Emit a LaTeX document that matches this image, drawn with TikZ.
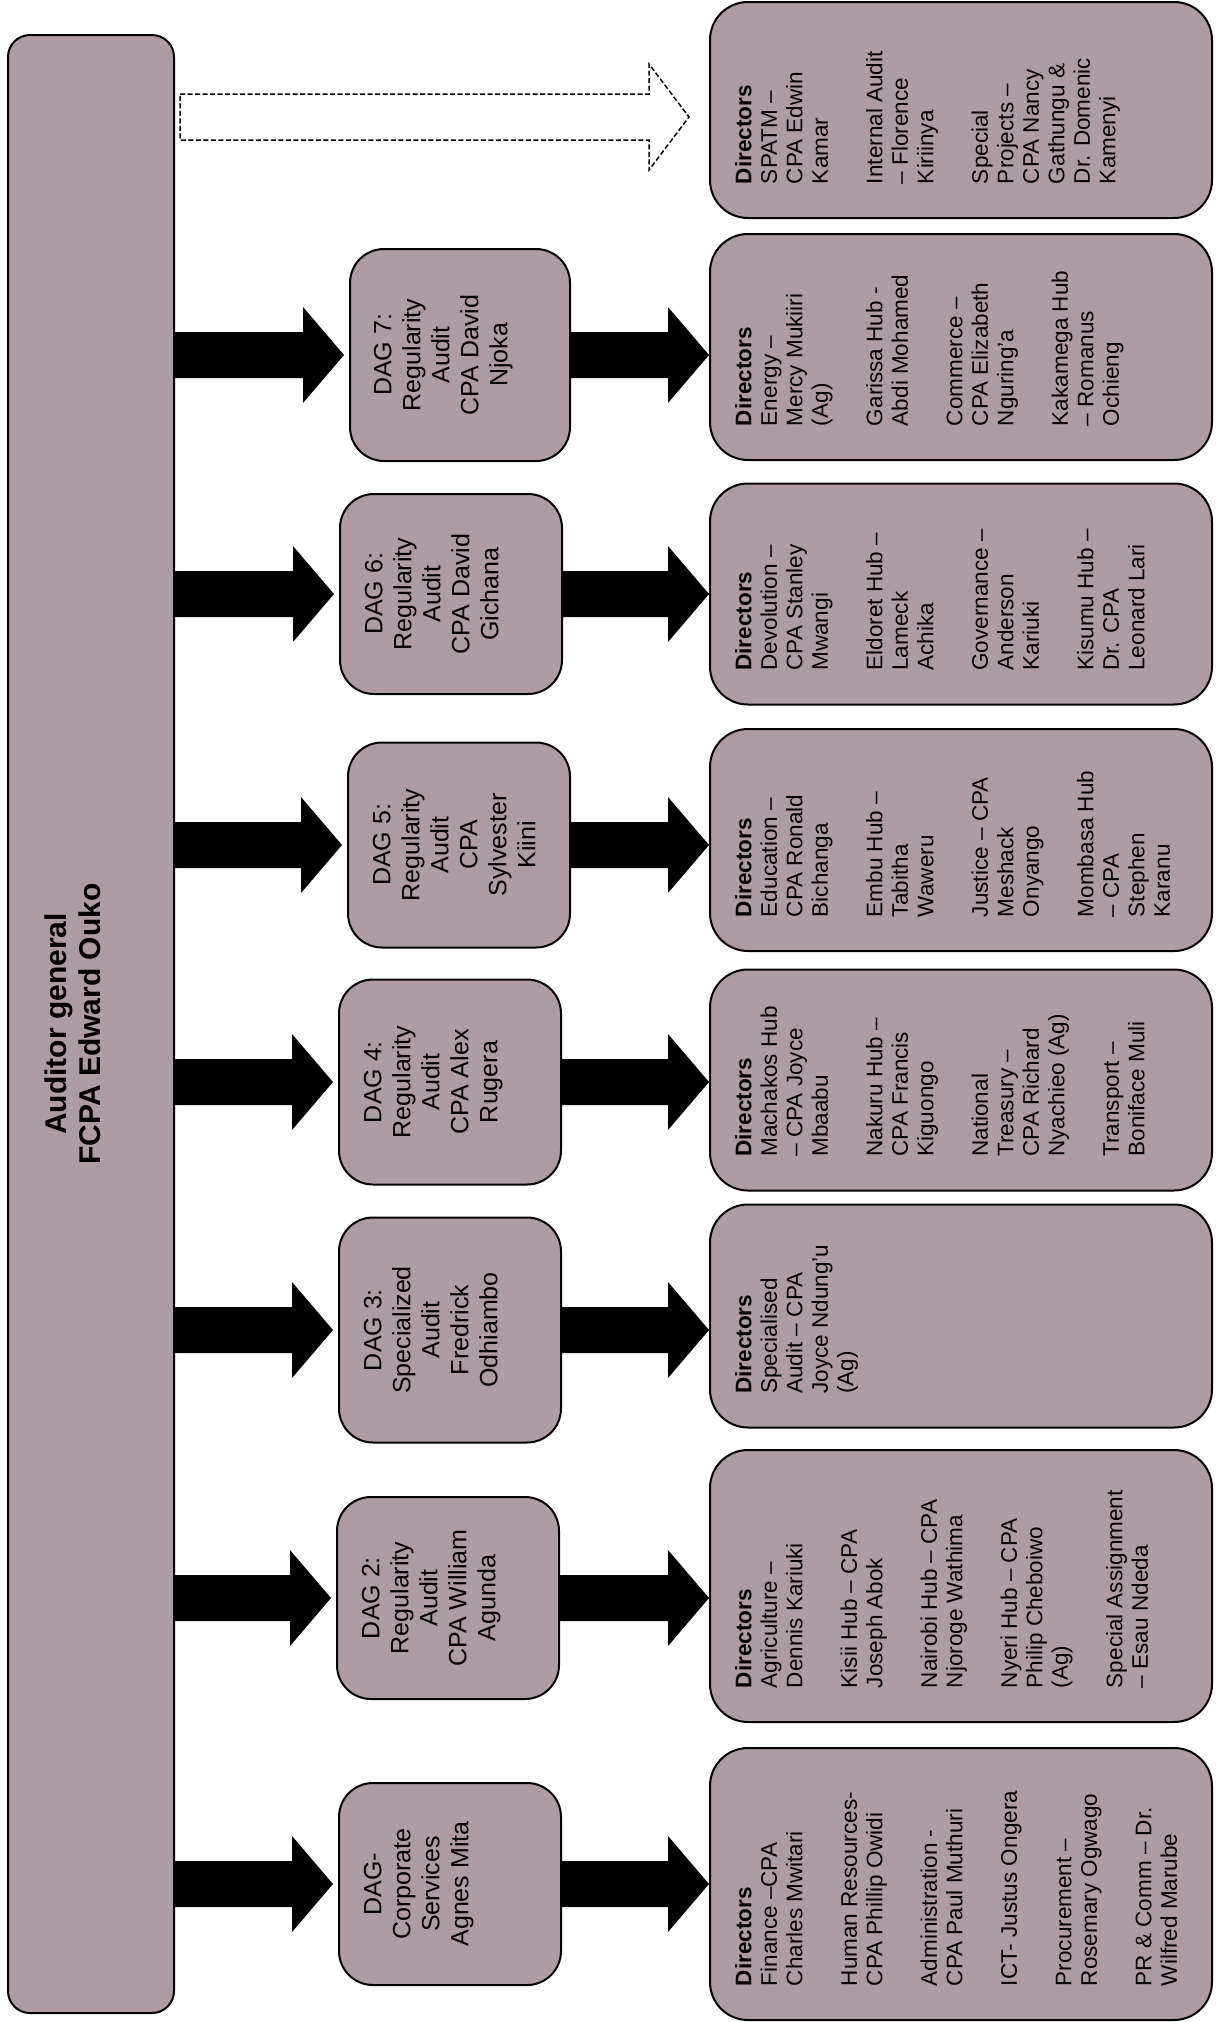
\documentclass[tikz,border=0pt]{standalone}
\usepackage{fontspec}
\setmainfont{Liberation Sans}
\usepackage{graphicx}
\usetikzlibrary{calc}
\definecolor{boxfill}{RGB}{172,157,164}
\tikzset{
agbar/.style={rectangle,rounded corners=22pt,draw=black,line width=2pt,fill=boxfill,
  inner sep=0pt,minimum width=166pt,minimum height=1978pt},
dagbox/.style={rectangle,rounded corners=34pt,draw=black,line width=2pt,fill=boxfill,
  inner sep=0pt,minimum width=222pt},
dirbox/.style={rectangle,rounded corners=38pt,draw=black,line width=2pt,fill=boxfill,
  inner sep=0pt,minimum width=502pt},
blkarr/.style={fill=black},
hollowarr/.style={draw=black,fill=white,line width=1.5pt,dash pattern=on 5pt off 2.5pt}
}
\newcommand{\dirfont}{\fontsize{22.5pt}{25.5pt}\selectfont}
\newcommand{\dagfont}{\fontsize{25pt}{29pt}\selectfont}
\newcommand{\agfont}{\fontsize{30pt}{34pt}\selectfont\bfseries}
\newcommand{\grp}{\\[29pt]}
\newcommand{\dirtext}[2]{\rotatebox{90}{\makebox[#1][l]{\parbox[c][452pt][t]{420pt}{\raggedright\dirfont #2}}}}
\newcommand{\dagtext}[1]{\rotatebox{90}{\parbox[c][172pt][t]{170pt}{\centering\dagfont #1}}}
\newcommand{\blkarrow}[2]{%
  \fill[blkarr] let \p1=(#1), \p2=(#2) in
    (\x1,\y1+23pt) -- (\x2-41pt,\y1+23pt) -- (\x2-41pt,\y1+48pt) -- (\x2,\y1)
    -- (\x2-41pt,\y1-48pt) -- (\x2-41pt,\y1-23pt) -- (\x1,\y1-23pt) -- cycle;}
\newcommand{\hollowarrow}[2]{%
  \draw[hollowarr] let \p1=(#1), \p2=(#2) in
    (\x1,\y1+23pt) -- (\x2-40pt,\y1+23pt) -- (\x2-40pt,\y1+53pt) -- (\x2,\y1)
    -- (\x2-40pt,\y1-53pt) -- (\x2-40pt,\y1-23pt) -- (\x1,\y1-23pt) -- cycle;}

\begin{document}
\begin{tikzpicture}[x=1pt,y=-1pt]
\useasboundingbox (0,0) rectangle (1223,2022);
\node[agbar] (bar) at (91,1024) {\rotatebox{90}{\parbox[c][92pt][t]{500pt}{\centering\agfont Auditor general\\FCPA Edward Ouko}}};

\node[dagbox,minimum width=220pt,minimum height=212pt] (dag7) at (460,355) {\dagtext{DAG 7:\\Regularity\\Audit\\CPA David\\Njoka}};
\node[dagbox,minimum height=200pt] (dag6) at (451,594) {\dagtext{DAG 6:\\Regularity\\Audit\\CPA David\\Gichana}};
\node[dagbox,minimum height=205pt] (dag5) at (459,845) {\dagtext{DAG 5:\\Regularity\\Audit\\CPA\\Sylvester\\Kiini}};
\node[dagbox,minimum height=205pt] (dag4) at (450,1082) {\dagtext{DAG 4:\\Regularity\\Audit\\CPA Alex\\Rugera}};
\node[dagbox,minimum height=225pt] (dag3) at (450,1330) {\dagtext{DAG 3:\\Specialized\\Audit\\Fredrick\\Odhiambo}};
\node[dagbox,minimum height=202pt] (dag2) at (448,1598) {\dagtext{DAG 2:\\Regularity\\Audit\\CPA William\\Agunda}};
\node[dagbox,minimum height=202pt] (dag1) at (450,1884) {\dagtext{DAG-\\Corporate\\Services\\Agnes Mita}};

\node[dirbox,minimum height=216pt] (dir0) at (961,110) {\dirtext{148pt}{\textbf{Directors}\\SPATM –\\CPA Edwin\\Kamar\grp
  Internal Audit\\– Florence\\Kiriinya\grp Special\\Projects –\\CPA Nancy\\Gathungu \&\\Dr. Domenic\\Kamenyi}};
\node[dirbox,minimum height=226pt] (dir7) at (961,347) {\dirtext{158pt}{\textbf{Directors}\\Energy –\\Mercy Mukiiri\\(Ag)\grp
  Garissa Hub -\\Abdi Mohamed\grp Commerce –\\CPA Elizabeth\\Nguring'a\grp Kakamega Hub\\– Romanus\\Ochieng}};
\node[dirbox,minimum height=221pt] (dir6) at (961,594) {\dirtext{153pt}{\textbf{Directors}\\Devolution –\\CPA Stanley\\Mwangi\grp
  Eldoret Hub –\\Lameck\\Achika\grp Governance –\\Anderson\\Kariuki\grp Kisumu Hub –\\Dr. CPA\\Leonard Lari}};
\node[dirbox,minimum height=222pt] (dir5) at (961,840) {\dirtext{154pt}{\textbf{Directors}\\Education –\\CPA Ronald\\Bichanga\grp
  Embu Hub –\\Tabitha\\Waweru\grp Justice – CPA\\Meshack\\Onyango\grp Mombasa Hub\\– CPA\\Stephen\\Karanu}};
\node[dirbox,minimum height=221pt] (dir4) at (961,1080) {\dirtext{153pt}{\textbf{Directors}\\Machakos Hub\\– CPA Joyce\\Mbaabu\grp
  Nakuru Hub –\\CPA Francis\\Kiguongo\grp National\\Treasury –\\CPA Richard\\Nyachieo (Ag)\grp Transport –\\Boniface Muli}};
\node[dirbox,minimum height=223pt] (dir3) at (961,1316) {\dirtext{155pt}{\textbf{Directors}\\Specialised\\Audit – CPA\\Joyce Ndung'u\\(Ag)}};
\node[dirbox,minimum height=272pt] (dir2) at (961,1586) {\dirtext{204pt}{\textbf{Directors}\\Agriculture –\\Dennis Kariuki\grp
  Kisii Hub – CPA\\Joseph Abok\grp Nairobi Hub – CPA\\Njoroge Wathima\grp Nyeri Hub – CPA\\Philip Cheboiwo\\(Ag)\grp
  Special Assignment\\– Esau Ndeda}};
\node[dirbox,minimum height=272pt] (dir1) at (961,1884) {\dirtext{204pt}{\textbf{Directors}\\Finance –CPA\\Charles Mwitari\grp
  Human Resources-\\CPA Phillip Owidi\grp Administration -\\CPA Paul Muthuri\grp ICT- Justus Ongera\grp
  Procurement –\\Rosemary Ogwago\grp PR \& Comm – Dr.\\Wilfred Marube}};

\hollowarrow{$(bar.east |- dir0)+(5,7)$}{$(dir0.west)+(-20,7)$}
\foreach \r in {7,6,5,4,3,2,1}{
  \blkarrow{bar.east |- dag\r}{$(dag\r.west)+(-5,0)$}
  \blkarrow{dag\r.east}{dir\r.west |- dag\r}
}
\end{tikzpicture}
\end{document}
